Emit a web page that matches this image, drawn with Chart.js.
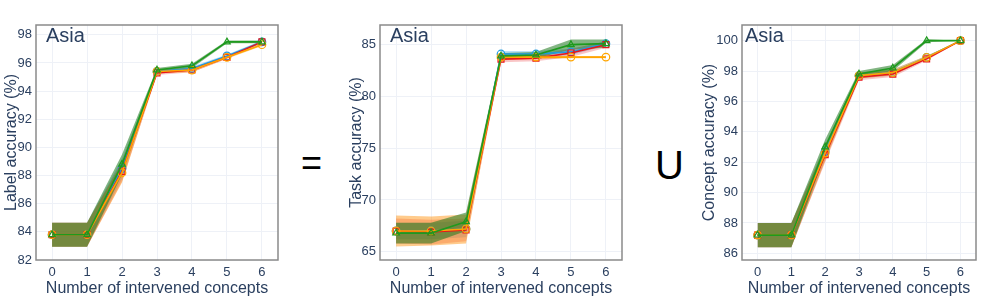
<!DOCTYPE html>
<html>
<head>
<meta charset="utf-8">
<script src="https://cdn.jsdelivr.net/npm/chart.js@4.4.1/dist/chart.umd.min.js"></script>
<style>
  html, body { margin: 0; padding: 0; background: #fff; }
  body { width: 997px; height: 298px; position: relative; overflow: hidden; font-family: "Liberation Sans", Arial, sans-serif; }
  .panel { position: absolute; top: 0; height: 298px; }
  .sym { position: absolute; color: #000; line-height: 1; }
</style>
</head>
<body>
<div class="panel" style="left:0;width:290px"><canvas id="labelChart"></canvas></div>
<div class="panel" style="left:340px;width:290px"><canvas id="taskChart"></canvas></div>
<div class="panel" style="left:695px;width:302px"><canvas id="conceptChart"></canvas></div>
<div class="sym" id="eq" style="left:301px;top:145px;font-size:36px">=</div>
<div class="sym" id="cup" style="left:655px;top:145px;font-size:40px">U</div>

<script>
// ── data ──
const steps = [0, 1, 2, 3, 4, 5, 6];
const seriesNames = ['blue', 'red', 'orange', 'green'];

// Label accuracy (%)
const labelBlue   = [83.8, 83.8, 88.5, 95.4, 95.6, 96.5, 97.5];
const labelRed    = [83.8, 83.8, 88.3, 95.3, 95.5, 96.4, 97.5];
const labelOrange = [83.8, 83.8, 88.2, 95.4, 95.5, 96.4, 97.3];
const labelGreen  = [83.8, 83.8, 88.8, 95.5, 95.8, 97.5, 97.5];
const labelSpread = [0.85, 0.85, 0.7, 0.15, 0.15, 0.1, 0.1];

// Task accuracy (%)
const taskBlue   = [67.0, 67.0, 67.2, 84.1, 84.1, 84.3, 85.1];
const taskRed    = [67.0, 66.9, 67.1, 83.6, 83.7, 84.2, 85.0];
const taskOrange = [67.0, 67.0, 67.2, 83.8, 83.8, 83.8, 83.8];
const taskGreen  = [66.8, 66.8, 67.9, 83.9, 84.0, 85.0, 85.1];
const taskSpreadBlue   = [0.8, 0.8, 0.8, 0.3, 0.3, 0.3, 0.2];
const taskSpreadRed    = [1.2, 1.2, 1.1, 0.3, 0.3, 0.4, 0.3];
const taskSpreadOrange = [1.5, 1.4, 1.4, 0.3, 0.2, 0.1, 0.1];
const taskSpreadGreen  = [1.0, 1.0, 0.9, 0.3, 0.3, 0.5, 0.4];

// Concept accuracy (%)
const conceptBlue   = [87.2, 87.2, 92.7, 97.7, 97.9, 98.9, 100];
const conceptRed    = [87.2, 87.2, 92.5, 97.6, 97.8, 98.8, 100];
const conceptOrange = [87.2, 87.2, 92.6, 97.7, 97.9, 98.9, 100];
const conceptGreen  = [87.2, 87.2, 93.0, 97.8, 98.2, 100, 100];
const conceptSpread = [0.8, 0.8, 0.5, 0.2, 0.2, 0.1, 0.0];

const labelTicks   = [82, 84, 86, 88, 90, 92, 94, 96, 98];
const taskTicks    = [65, 70, 75, 80, 85];
const conceptTicks = [86, 88, 90, 92, 94, 96, 98, 100];

const COLORS = {
  blue:   '#1f9be0',
  red:    '#e8161b',
  orange: '#ffa500',
  green:  '#1e9a1e'
};
const BANDS = {
  blue:   'rgba(31,155,224,0.30)',
  red:    'rgba(232,22,27,0.25)',
  orange: 'rgba(255,140,0,0.45)',
  green:  'rgba(30,120,30,0.55)'
};
const MARKERS = { blue: 'circle', red: 'rect', orange: 'circle', green: 'triangle' };
const LINE_ORDER = { blue: 4, red: 3, orange: 2, green: 1 };

const TEXT = '#2a3f5f';
const FONT = "'Liberation Sans', Arial, sans-serif";

// ── helpers ──
function pts(vals, off) {
  return vals.map((v, i) => ({ x: steps[i], y: v + (off ? off[i] : 0) }));
}
function neg(arr) { return arr.map(v => -v); }

function buildDatasets(means, spreads) {
  const ds = [];
  seriesNames.forEach((name, k) => {
    const m = means[k], s = spreads[k];
    ds.push({
      data: pts(m, s), borderWidth: 0, pointRadius: 0, fill: '+1',
      backgroundColor: BANDS[name], order: 20 - k
    });
    ds.push({
      data: pts(m, neg(s)), borderWidth: 0, pointRadius: 0, fill: false, order: 20 - k
    });
  });
  seriesNames.forEach((name, k) => {
    ds.push({
      data: pts(means[k]), borderColor: COLORS[name], borderWidth: 1.6,
      pointStyle: MARKERS[name], pointRadius: name === 'red' ? 4.2 : 3.8,
      pointBorderColor: COLORS[name], pointBackgroundColor: 'rgba(255,255,255,0)',
      pointBorderWidth: 1.2, fill: false, order: LINE_ORDER[name]
    });
  });
  return ds;
}

const framePlugin = {
  id: 'frame',
  afterDraw(chart) {
    const a = chart.chartArea, c = chart.ctx;
    c.save();
    c.strokeStyle = '#8a8a8a';
    c.lineWidth = 1.5;
    c.strokeRect(a.left, a.top, a.right - a.left, a.bottom - a.top);
    c.fillStyle = TEXT;
    c.font = '20px ' + FONT;
    c.textBaseline = 'alphabetic';
    c.fillText('Asia', a.left + chart.options.titleInset, a.top + 17);
    c.restore();
  }
};

function makeChart(id, means, spreads, cfg) {
  const el = document.getElementById(id);
  el.width = cfg.width; el.height = 298;
  return new Chart(el.getContext('2d'), {
    type: 'line',
    data: { datasets: buildDatasets(means, spreads) },
    plugins: [framePlugin],
    options: {
      responsive: false,
      animation: false,
      titleInset: cfg.titleInset,
      layout: { padding: { top: 25, right: cfg.padRight, left: 0, bottom: 0 } },
      scales: {
        x: {
          type: 'linear', min: -0.46, max: 6.46,
          afterBuildTicks: s => { s.ticks = steps.map(v => ({ value: v })); },
          afterFit: s => { s.height = 38; },
          grid: { color: '#eef1f7', drawTicks: false },
          border: { display: false },
          ticks: { color: TEXT, font: { family: FONT, size: 13 }, padding: 5 },
          title: { display: true, text: 'Number of intervened concepts', color: TEXT,
                   font: { family: FONT, size: 16 }, padding: { top: 0, bottom: 0 } }
        },
        y: {
          min: cfg.yMin, max: cfg.yMax,
          afterBuildTicks: s => { s.ticks = cfg.ticks.map(v => ({ value: v })); },
          afterFit: s => { s.width = cfg.yWidth; },
          grid: { color: '#eef1f7', drawTicks: false },
          border: { display: false },
          ticks: { color: TEXT, font: { family: FONT, size: 13 }, padding: 4 },
          title: { display: true, text: cfg.yTitle, color: TEXT,
                   font: { family: FONT, size: 16 }, padding: { top: cfg.titleShift, bottom: 0 } }
        }
      },
      plugins: { legend: { display: false }, tooltip: { enabled: false } }
    }
  });
}

makeChart('labelChart',
  [labelBlue, labelRed, labelOrange, labelGreen],
  [labelSpread, labelSpread, labelSpread, labelSpread],
  { width: 290, padRight: 12, yWidth: 36, yMin: 82, yMax: 98.7, ticks: labelTicks,
    yTitle: 'Label accuracy (%)', titleInset: 10, titleShift: 2 });

makeChart('taskChart',
  [taskBlue, taskRed, taskOrange, taskGreen],
  [taskSpreadBlue, taskSpreadRed, taskSpreadOrange, taskSpreadGreen],
  { width: 290, padRight: 8, yWidth: 40, yMin: 64.2, yMax: 86.9, ticks: taskTicks,
    yTitle: 'Task accuracy (%)', titleInset: 10, titleShift: 7 });

makeChart('conceptChart',
  [conceptBlue, conceptRed, conceptOrange, conceptGreen],
  [conceptSpread, conceptSpread, conceptSpread, conceptSpread],
  { width: 302, padRight: 21, yWidth: 47, yMin: 85.56, yMax: 101.03, ticks: conceptTicks,
    yTitle: 'Concept accuracy (%)', titleInset: 3, titleShift: 5 });
</script>
</body>
</html>
